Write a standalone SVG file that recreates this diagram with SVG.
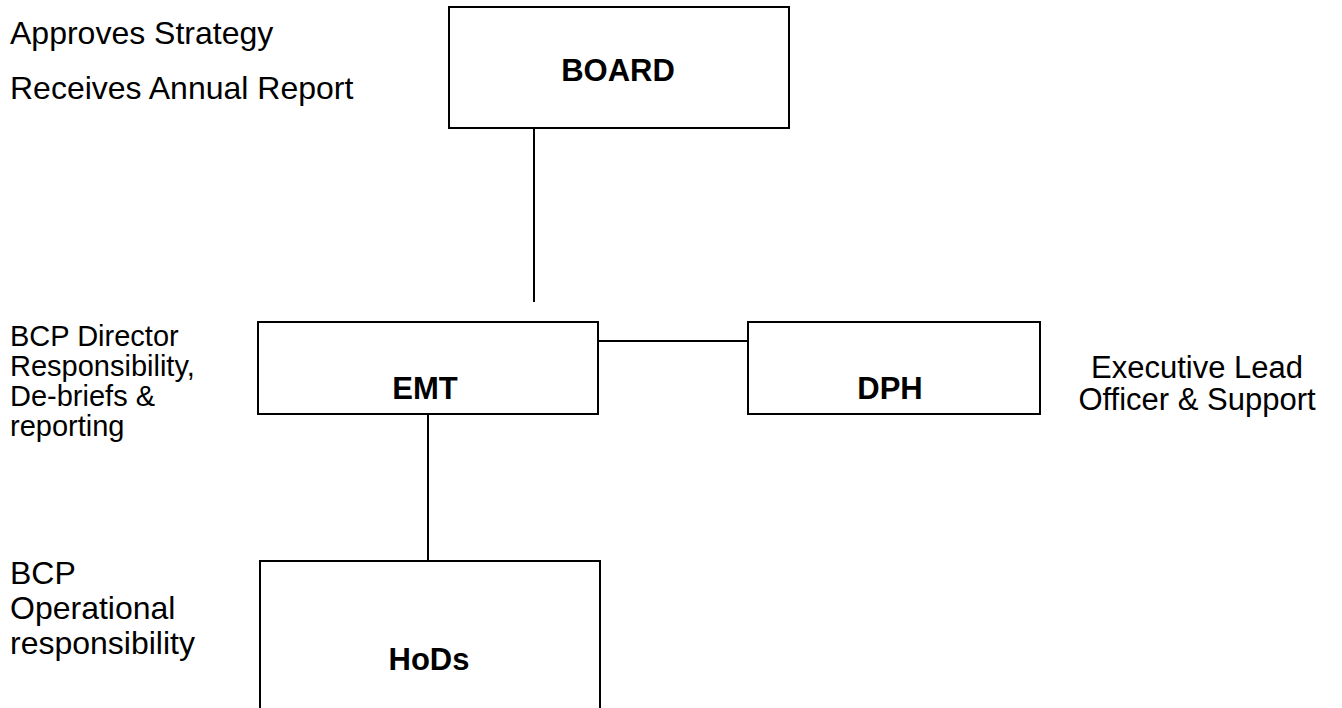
<svg xmlns="http://www.w3.org/2000/svg" width="1342" height="708" viewBox="0 0 1342 708">
<style>
.box{fill:#fff;stroke:#000;stroke-width:2}
.lbl{font-family:"Liberation Sans",Arial,sans-serif;font-size:31px;font-weight:bold;text-anchor:middle;fill:#000}
.note{font-family:"Liberation Sans",Arial,sans-serif;font-size:32px;fill:#000}
.small{font-size:29px}
.right{font-size:31px}
.conn{stroke:#000;stroke-width:2;fill:none}
</style>
<rect width="1342" height="708" fill="#fff"/>
<g id="connectors">
<line class="conn" x1="534" y1="128" x2="534" y2="302"/>
<line class="conn" x1="598" y1="341" x2="748" y2="341"/>
<line class="conn" x1="428" y1="414" x2="428" y2="561"/>
</g>
<g id="board">
<rect class="box" x="449" y="7" width="340" height="121"/>
<text class="lbl" x="618" y="81">BOARD</text>
</g>
<g id="emt">
<rect class="box" x="258" y="322" width="340" height="92"/>
<text class="lbl" x="425" y="399">EMT</text>
</g>
<g id="dph">
<rect class="box" x="748" y="322" width="292" height="92"/>
<text class="lbl" x="890" y="399">DPH</text>
</g>
<g id="hods">
<rect class="box" x="260" y="561" width="340" height="170"/>
<text class="lbl" x="429" y="670">HoDs</text>
</g>
<g id="notes">
<text class="note" x="10" y="44">Approves Strategy</text>
<text class="note" x="10" y="99">Receives Annual Report</text>
<text class="note small" x="10" y="346">BCP Director</text>
<text class="note small" x="10" y="376">Responsibility,</text>
<text class="note small" x="10" y="406">De-briefs &amp;</text>
<text class="note small" x="10" y="436">reporting</text>
<text class="note" x="10" y="584">BCP</text>
<text class="note" x="10" y="619">Operational</text>
<text class="note" x="10" y="654">responsibility</text>
<text class="note right" text-anchor="middle" x="1197" y="378">Executive Lead</text>
<text class="note right" text-anchor="middle" x="1197" y="410">Officer &amp; Support</text>
</g>
</svg>
